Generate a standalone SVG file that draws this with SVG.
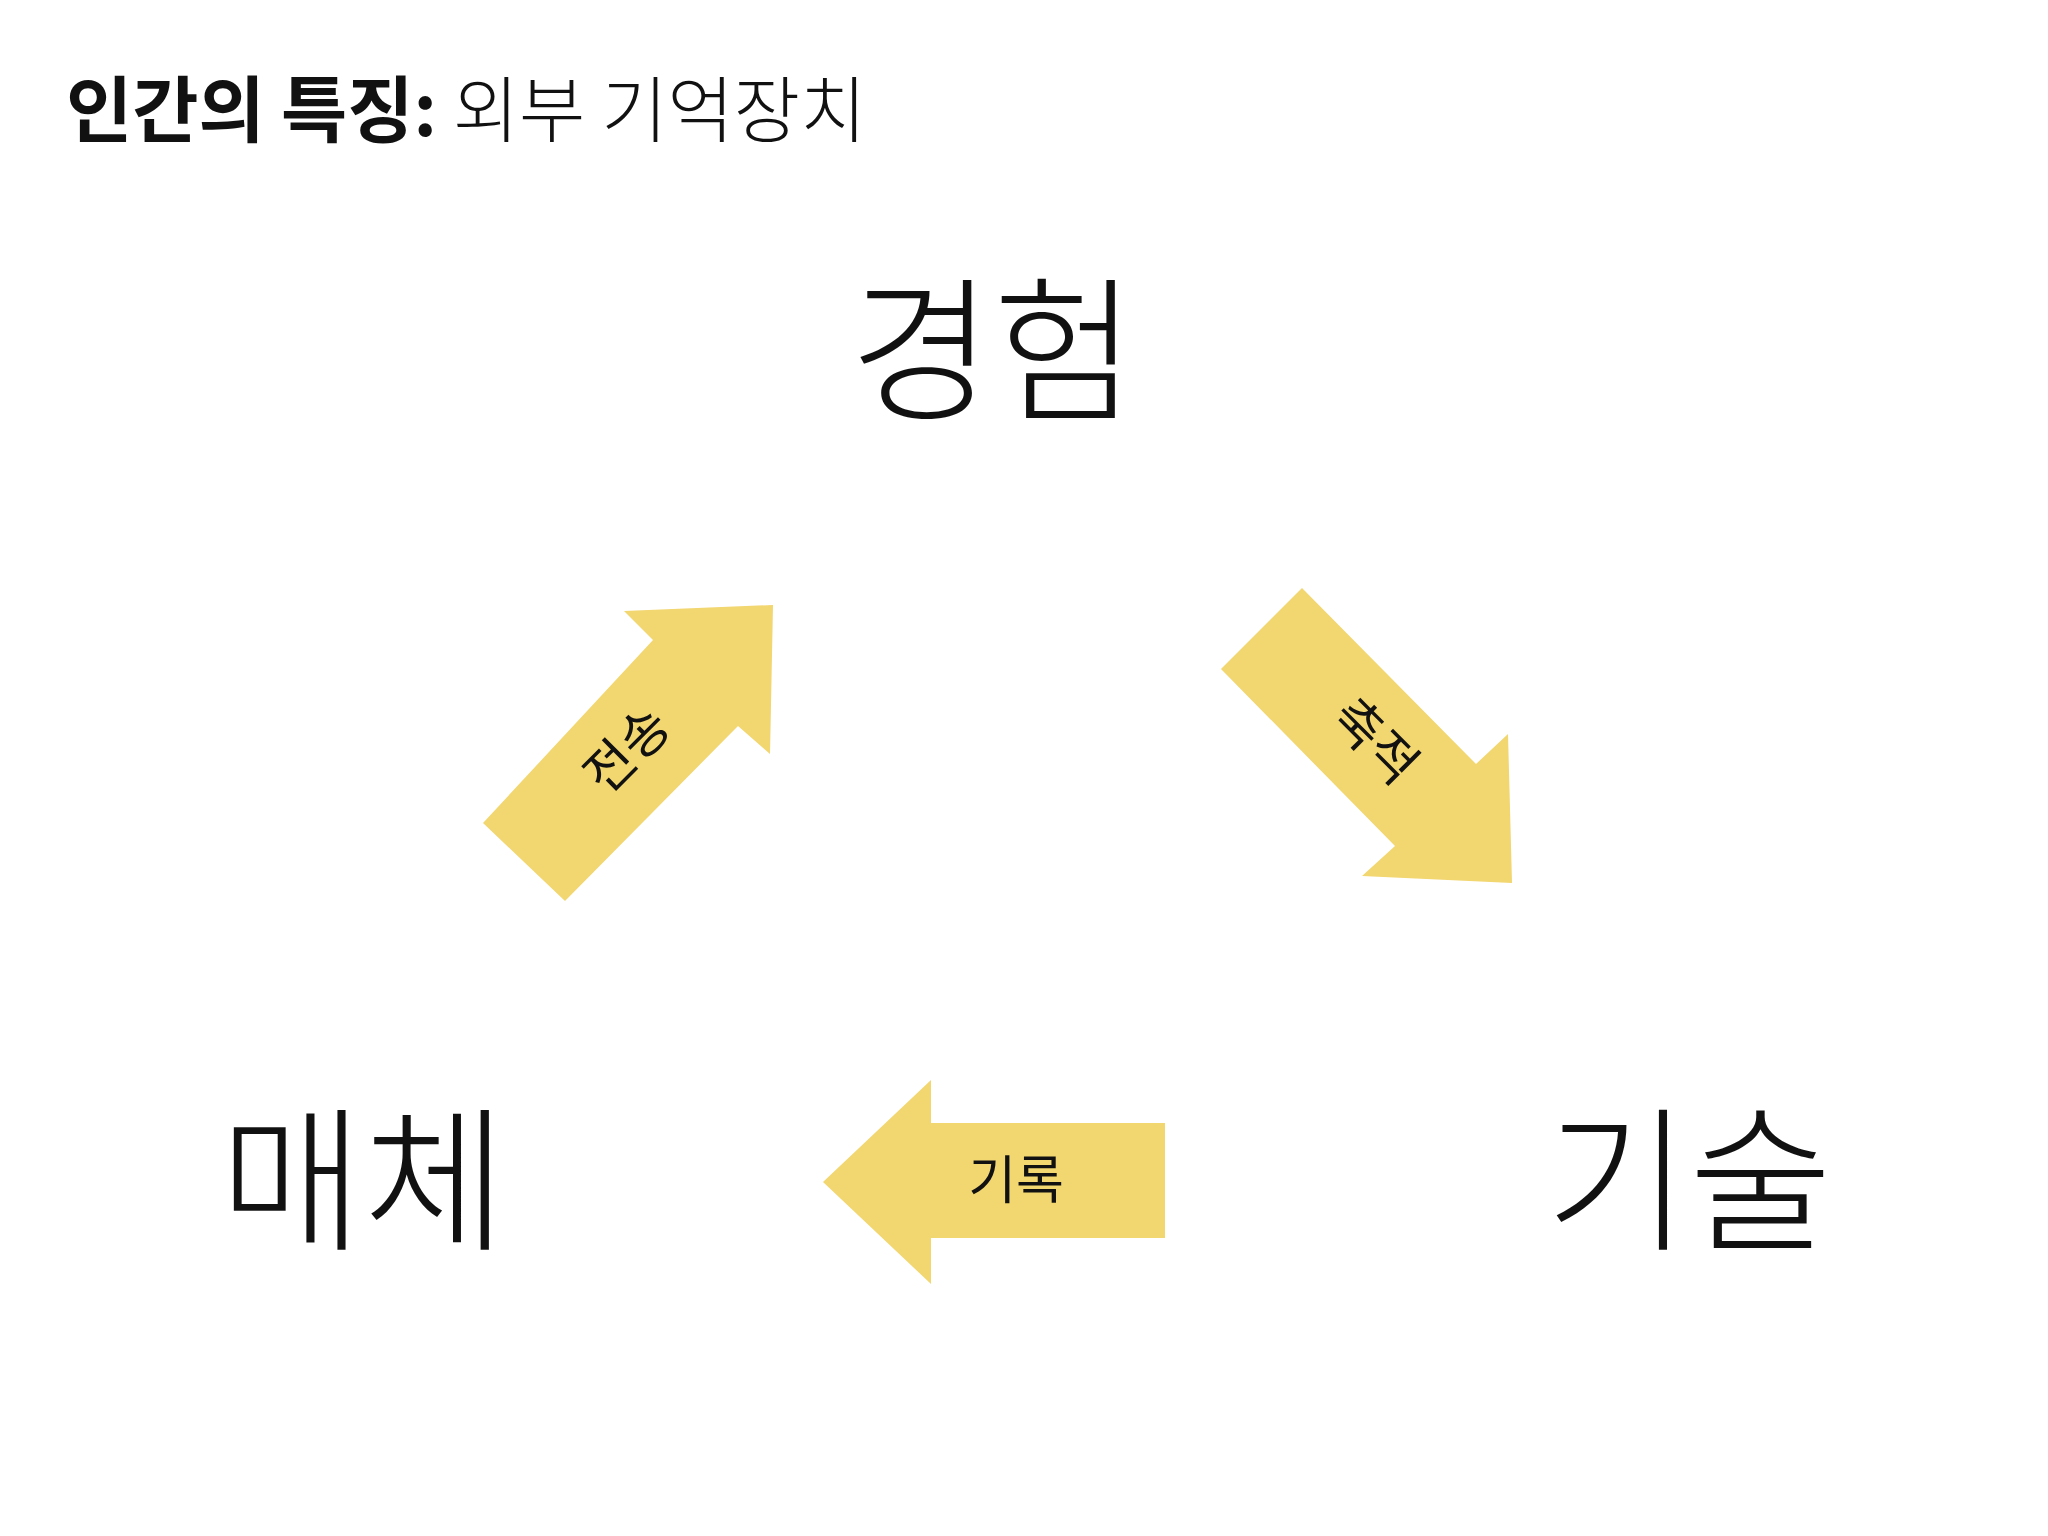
<svg xmlns="http://www.w3.org/2000/svg" width="2048" height="1536" viewBox="0 0 2048 1536">
<style>
.k{font-family:"Noto Sans CJK KR","Noto Sans",sans-serif;fill:#111}
.arrow{fill:#f2d670}
.lbl{font-family:"Noto Sans CJK KR",sans-serif;font-size:52px;fill:#111;text-anchor:middle;dominant-baseline:central}
.big{font-size:156px;font-weight:300;text-anchor:middle}
</style>
<rect width="2048" height="1536" fill="#fff"/>
<text class="k" x="66" y="136" font-size="72"><tspan font-weight="700">인간의 특징:</tspan><tspan font-weight="300"> 외부 기억장치</tspan></text>
<g id="n-experience"><text class="k big" x="993" y="408">경험</text></g>
<g id="n-media"><text class="k big" x="363" y="1238">매체</text></g>
<g id="n-tech"><text class="k big" x="1689" y="1238">기술</text></g>
<g id="connectors">
<g id="a-transfer"><polygon class="arrow" points="565,901 738,726 770,754 773,605 624,611 653,640 483,823"/>
<text class="lbl" transform="translate(624,747) rotate(-45)">전송</text></g>
<g id="a-accum"><polygon class="arrow" points="1302,588 1476,764 1508,734 1512,883 1362,876 1395,846 1221,669"/>
<text class="lbl" transform="translate(1378,738) rotate(45)">축적</text></g>
<g id="a-record"><polygon class="arrow" points="1165,1123 1165,1238 931,1238 931,1284 823,1182 931,1080 931,1123"/>
<text class="lbl" x="1016" y="1176">기록</text></g>
</g>
</svg>
